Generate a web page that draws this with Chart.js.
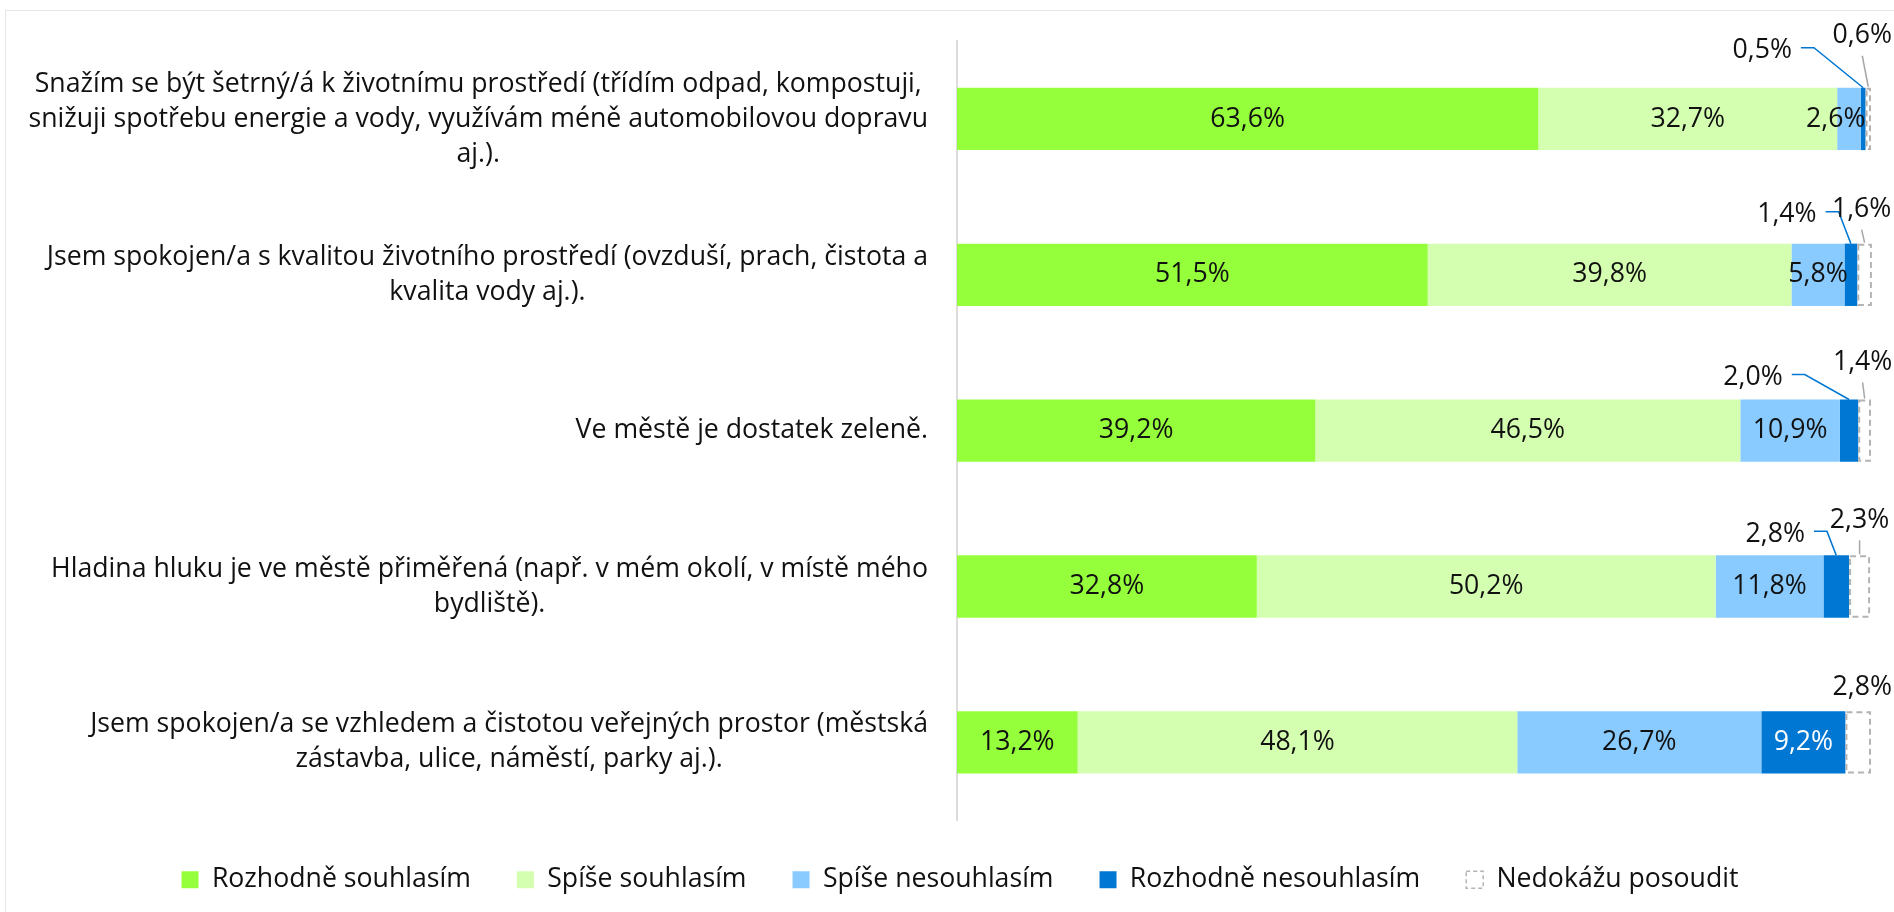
<!DOCTYPE html>
<html lang="cs">
<head>
<meta charset="utf-8">
<script src="https://cdn.jsdelivr.net/npm/chart.js@4.4.1/dist/chart.umd.min.js"></script>
<style>
  html, body { margin: 0; padding: 0; overflow: hidden; background: #fff; }
  #ramecek { position: absolute; left: 5px; top: 10px; width: 1890px; height: 955px; border: 1px solid #e6e6e6; }
</style>
</head>
<body>
<div id="ramecek"><canvas id="graf"></canvas></div>
<script>
// otazky (radky grafu), zalomene jako v puvodnim grafu
const otazky = [
  ['Snažím se být šetrný/á k životnímu prostředí (třídím odpad, kompostuji,', 'snižuji spotřebu energie a vody, využívám méně automobilovou dopravu', 'aj.).'],
  ['Jsem spokojen/a s kvalitou životního prostředí (ovzduší, prach, čistota a', 'kvalita vody aj.).'],
  ['Ve městě je dostatek zeleně.'],
  ['Hladina hluku je ve městě přiměřená (např. v mém okolí, v místě mého', 'bydliště).'],
  ['Jsem spokojen/a se vzhledem a čistotou veřejných prostor (městská', 'zástavba, ulice, náměstí, parky aj.).']
]

const odpovedi = ['Rozhodně souhlasím', 'Spíše souhlasím', 'Spíše nesouhlasím', 'Rozhodně nesouhlasím', 'Nedokážu posoudit']

const rozhodne_souhlasim = [63.6, 51.5, 39.2, 32.8, 13.2]
const spise_souhlasim = [32.7, 39.8, 46.5, 50.2, 48.1]
const spise_nesouhlasim = [2.6, 5.8, 10.9, 11.8, 26.7]
const rozhodne_nesouhlasim = [0.5, 1.4, 2.0, 2.8, 9.2]
const nedokazu_posoudit = [0.6, 1.6, 1.4, 2.3, 2.8]

const barvy = ['#96ff3c', '#d5ffb0', '#8acbff', '#0077d2', 'rgba(0,0,0,0)']
const pismo = '"Open Sans", sans-serif'
const velikost = 26.67

// umisteni popisku nad pruhem (posun od stredu useku a horni hrany pruhu)
const popisky_modre = [
  {dx: -101, dy: -37}, {dx: -64, dy: -29}, {dx: -96, dy: -22}, {dx: -61, dy: -21}, null
]
const popisky_sede = [
  {dx: -6, dy: -52, cara: true}, {dx: -3, dy: -34, cara: true}, {dx: -2, dy: -37, cara: true},
  {dx: 0, dy: -35, cara: true}, {dx: 4, dy: -24, cara: false}
]

function format(v){
  return v.toFixed(1).replace('.', ',') + '%'
}

const popisky_os = {
  id: 'popisky_os',
  afterDraw(chart){
    const ctx = chart.ctx
    const osa = chart.scales.y
    const prava = chart.chartArea.left - 29
    ctx.save()
    ctx.font = velikost + 'px ' + pismo
    ctx.fillStyle = '#111'
    ctx.textAlign = 'center'
    ctx.textBaseline = 'middle'
    otazky.forEach((radky, i) => {
      const yc = osa.getPixelForValue(i)
      let sirka = 0
      radky.forEach(r => { sirka = Math.max(sirka, ctx.measureText(r).width) })
      const cx = prava - sirka / 2
      radky.forEach((r, j) => {
        ctx.fillText(r, cx, yc + (j - (radky.length - 1) / 2) * 35)
      })
    })
    ctx.restore()
  }
}

const popisky_hodnot = {
  id: 'popisky_hodnot',
  afterDatasetsDraw(chart){
    const ctx = chart.ctx
    ctx.save()
    ctx.font = velikost + 'px ' + pismo
    ctx.textBaseline = 'middle'
    ctx.textAlign = 'center'

    const meta = chart.data.datasets.map((d, i) => chart.getDatasetMeta(i))

    // prerusovany obdelnik pro "Nedokazu posoudit"
    meta[4].data.forEach(el => {
      const p = el.getProps(['x', 'y', 'base', 'height'], true)
      ctx.save()
      ctx.strokeStyle = '#b3b3b3'
      ctx.lineWidth = 2
      ctx.setLineDash([6, 4])
      ctx.strokeRect(p.base + 1, p.y - p.height / 2 + 1, p.x - p.base - 2, p.height - 2)
      ctx.restore()
    })

    for (let d = 0; d < 5; d++){
      const hodnoty = chart.data.datasets[d].data
      meta[d].data.forEach((el, i) => {
        const p = el.getProps(['x', 'y', 'base', 'height'], true)
        const v = hodnoty[i]
        const text = format(v)
        const w = ctx.measureText(text).width
        const stred = (p.base + p.x) / 2
        const horni = p.y - p.height / 2
        if (d < 3 || (d == 3 && v >= 5)){
          const konec = meta[3].data[i].getProps(['x'], true).x
          let tx = stred
          if (tx + w / 2 > konec) tx = konec - w / 2
          ctx.fillStyle = d == 3 ? '#fff' : '#111'
          ctx.fillText(text, tx, p.y)
        } else if (d == 3){
          const o = popisky_modre[i]
          const tx = stred + o.dx, ty = horni + o.dy
          ctx.fillStyle = '#111'
          ctx.fillText(text, tx, ty)
          ctx.strokeStyle = barvy[3]
          ctx.lineWidth = 1.5
          ctx.beginPath()
          ctx.moveTo(tx + w / 2 + 9, ty - 3)
          ctx.lineTo(tx + w / 2 + 22, ty - 3)
          ctx.lineTo(stred, horni)
          ctx.stroke()
        } else {
          const o = popisky_sede[i]
          const tx = stred + o.dx, ty = horni + o.dy
          ctx.fillStyle = '#111'
          ctx.fillText(text, tx, ty)
          if (o.cara){
            ctx.strokeStyle = '#a6a6a6'
            ctx.lineWidth = 1.5
            ctx.beginPath()
            ctx.moveTo(tx, ty + 20)
            ctx.lineTo(stred, horni - 1)
            ctx.stroke()
          }
        }
      })
    }
    ctx.restore()
  }
}

const data_sady = [rozhodne_souhlasim, spise_souhlasim, spise_nesouhlasim, rozhodne_nesouhlasim, nedokazu_posoudit]
  .map((hodnoty, i) => ({
    label: odpovedi[i],
    data: hodnoty,
    backgroundColor: barvy[i],
    borderWidth: 0,
    barPercentage: 0.4,
    categoryPercentage: 1,
    clip: false
  }))

new Chart(document.getElementById('graf'), {
  type: 'bar',
  data: {
    labels: otazky.map(r => r.join(' ')),
    datasets: data_sady
  },
  options: {
    indexAxis: 'y',
    responsive: true,
    maintainAspectRatio: false,
    animation: false,
    layout: { padding: { left: 43, right: 25, top: 30, bottom: 63 } },
    scales: {
      x: { stacked: true, min: 0, max: 100, display: false },
      y: {
        stacked: true,
        grid: { display: false },
        border: { display: true, color: '#dcdcdc', width: 2 },
        ticks: { display: false },
        afterFit(scale){ scale.width = 908 }
      }
    },
    plugins: {
      tooltip: { enabled: false },
      legend: {
        position: 'bottom',
        labels: {
          boxWidth: 17,
          boxHeight: 17,
          padding: 46,
          color: '#111',
          font: { family: pismo, size: velikost },
          generateLabels(chart){
            const polozky = Chart.defaults.plugins.legend.labels.generateLabels(chart)
            polozky.forEach(p => { p.lineWidth = 0 })
            const posledni = polozky[4]
            posledni.fillStyle = 'rgba(0,0,0,0)'
            posledni.strokeStyle = '#b3b3b3'
            posledni.lineWidth = 1.5
            posledni.lineDash = [4, 3]
            return polozky
          }
        }
      }
    }
  },
  plugins: [popisky_os, popisky_hodnot]
})
</script>
</body>
</html>
